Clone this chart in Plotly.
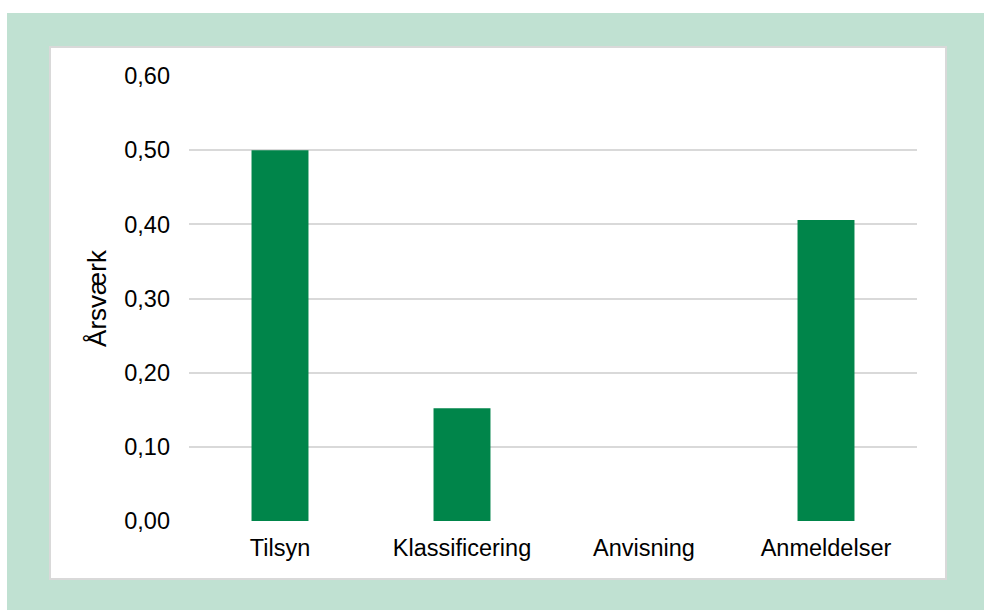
import plotly.graph_objects as go

categories = ["Tilsyn", "Klassificering", "Anvisning", "Anmeldelser"]
values = [0.50, 0.152, 0.0, 0.406]
y_title = "Årsværk"

W, H = 984, 610
L, T = 189, 76
R = W - 917
B = H - 521
pw, ph = W - L - R, H - T - B

def px(x):
    return (x - L) / pw

def py(y):
    return (H - B - y) / ph

fig = go.Figure(go.Bar(x=categories, y=values, marker_color="#00854a",
                       marker_line_width=0))

fig.update_layout(
    width=W, height=H,
    margin=dict(l=L, r=R, t=T, b=B),
    paper_bgcolor="#c0e1d2", plot_bgcolor="rgba(0,0,0,0)",
    bargap=0.687,
    separators=",.",
    font=dict(family="Liberation Sans, Arial", size=23.5, color="black"),
    showlegend=False,
    shapes=[
        dict(type="rect", xref="paper", yref="paper", layer="below",
             x0=px(-5), x1=px(1000), y0=py(13), y1=py(-5),
             fillcolor="white", line_width=0),
        dict(type="rect", xref="paper", yref="paper", layer="below",
             x0=px(-5), x1=px(7), y0=py(620), y1=py(-5),
             fillcolor="white", line_width=0),
        dict(type="rect", xref="paper", yref="paper", layer="below",
             x0=px(50), x1=px(946), y0=py(579), y1=py(47),
             fillcolor="white", line=dict(color="#d9d9d9", width=2)),
    ],
)
fig.update_yaxes(range=[0, 0.6], dtick=0.1, tickformat=".2f",
                 showgrid=True, gridcolor="#d9d9d9", gridwidth=1.5,
                 zeroline=False, showline=False, ticks="",
                 ticklabelstandoff=18,
                 title=dict(text=y_title, standoff=10, font=dict(size=26)))
fig.update_xaxes(showgrid=False, showline=False, ticks="", ticklabelstandoff=10)

fig.write_html("out.html", config={"displayModeBar": False},
               post_script="document.body.style.margin='0';document.body.style.overflow='hidden';")
